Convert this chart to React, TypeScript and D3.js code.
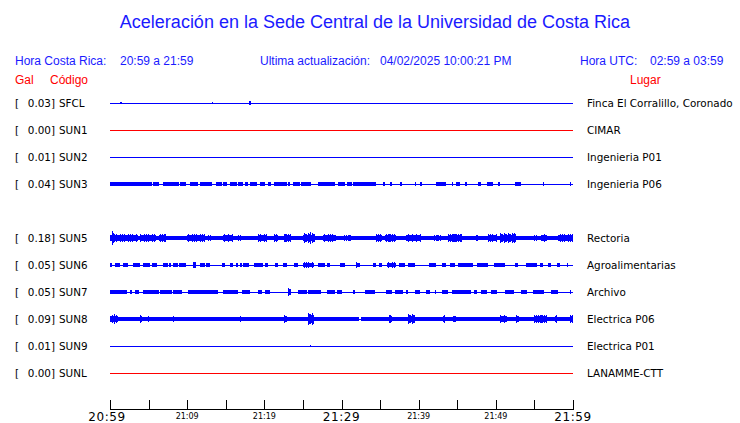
import React from "react";
import * as d3 from "d3";

// ---------- data ----------
const title = "Aceleración en la Sede Central de la Universidad de Costa Rica";
const codes = ["SFCL", "SUN1", "SUN2", "SUN3", "SUN5", "SUN6", "SUN7", "SUN8", "SUN9", "SUNL"];
const rowSlots = [0, 1, 2, 3, 5, 6, 7, 8, 9, 10];
const gals = [0.03, 0.0, 0.01, 0.04, 0.18, 0.05, 0.05, 0.09, 0.01, 0.0];
const places = [
  "Finca El Corralillo, Coronado",
  "CIMAR",
  "Ingenieria P01",
  "Ingenieria P06",
  "Rectoria",
  "Agroalimentarias",
  "Archivo",
  "Electrica P06",
  "Electrica P01",
  "LANAMME-CTT",
];
const traceColors = ["blue", "red", "blue", "blue", "blue", "blue", "blue", "blue", "blue", "red"];
// background band amplitude (relative units)
const baseAmp = [0, 0, 0, 0.06, 0.27, 0.06, 0.06, 0.3, 0, 0];

// bursts: [startMinute, endMinute, amplitude]
const burstsSFCL: number[][] = [[1.35, 1.5, 0.15], [13.25, 13.4, 0.1], [17.95, 18.25, 0.22]];
const burstsSUN1: number[][] = [];
const burstsSUN2: number[][] = [];
const burstsSUN3: number[][] = [
  [0, 5.4, 0.19], [5.6, 6.3, 0.19], [6.9, 8.9, 0.19], [9.1, 9.9, 0.19], [10.4, 11.4, 0.19],
  [11.7, 13.2, 0.19], [13.8, 14.5, 0.19], [14.7, 15.1, 0.19], [15.5, 16.4, 0.19], [16.6, 17.3, 0.19],
  [17.5, 17.9, 0.19], [18.1, 19.0, 0.19], [19.4, 20.1, 0.19], [20.5, 20.9, 0.19], [21.2, 22.9, 0.19],
  [23.1, 23.3, 0.19], [23.75, 24.6, 0.19], [24.8, 26.1, 0.19], [25.8, 26.0, 0.35], [27.0, 29.1, 0.19],
  [29.6, 30.4, 0.19], [30.7, 31.3, 0.19], [31.5, 34.5, 0.19], [35.4, 35.6, 0.19], [36.3, 36.5, 0.19],
  [37.6, 37.8, 0.19], [39.5, 39.7, 0.19], [40.2, 40.4, 0.19], [42.3, 43.6, 0.19], [44.3, 44.5, 0.19],
  [44.9, 45.3, 0.19], [46.0, 46.2, 0.19], [47.7, 48.1, 0.19], [48.8, 49.6, 0.19], [50.3, 50.5, 0.19],
  [52.5, 53.3, 0.19], [56.1, 56.3, 0.19], [59.6, 59.8, 0.19],
];
const burstsSUN5: number[][] = [
  [0, 3.67, 0.5], [0.3, 0.55, 0.9], [3.9, 6.0, 0.5], [6.3, 7.3, 0.55], [10.0, 12.3, 0.5],
  [12.7, 13.2, 0.4], [14.7, 16.0, 0.45], [16.6, 17.1, 0.4], [19.2, 20.3, 0.5], [21.2, 21.8, 0.5],
  [22.5, 23.5, 0.55], [25.0, 26.6, 0.6], [25.9, 26.1, 0.95], [27.6, 29.3, 0.5], [30.2, 31.3, 0.4],
  [34.5, 35.3, 0.5], [35.7, 37.0, 0.55], [38.4, 40.3, 0.45], [41.9, 42.9, 0.4], [43.8, 45.6, 0.55],
  [44.7, 44.9, 0.7], [47.3, 47.7, 0.4], [49.0, 50.1, 0.5], [50.6, 52.6, 0.6], [52.4, 52.6, 0.75],
  [55.0, 55.5, 0.4], [55.8, 56.6, 0.45], [58.1, 60, 0.5],
];
const burstsSUN6: number[][] = [
  [0, 0.2, 0.25], [0.65, 1.3, 0.25], [1.73, 2.37, 0.25], [3.02, 3.9, 0.25], [4.32, 5.2, 0.25],
  [5.4, 6.04, 0.25], [6.9, 7.5, 0.25], [7.6, 7.9, 0.25], [8.2, 8.8, 0.25], [9.0, 9.9, 0.25],
  [10.8, 11.2, 0.45], [11.66, 12.3, 0.25], [12.5, 13.0, 0.25], [14.5, 14.9, 0.25], [15.5, 16.0, 0.25],
  [16.3, 16.6, 0.25], [16.8, 17.1, 0.25], [17.3, 18.0, 0.25], [18.6, 19.8, 0.25], [20.1, 20.5, 0.25],
  [21.4, 21.8, 0.25], [22.45, 22.9, 0.25], [23.9, 24.3, 0.25], [25.0, 26.5, 0.35], [27.0, 27.8, 0.25],
  [28.1, 28.5, 0.25], [29.8, 30.4, 0.25], [31.9, 32.4, 0.35], [34.1, 34.5, 0.25], [34.8, 35.2, 0.25],
  [35.9, 37.0, 0.35], [37.4, 38.2, 0.25], [38.6, 39.5, 0.25], [41.4, 42.3, 0.25], [43.0, 43.6, 0.25],
  [44.0, 44.7, 0.25], [45.1, 47.0, 0.25], [47.5, 49.0, 0.25], [49.7, 51.2, 0.25], [52.5, 52.9, 0.25],
  [53.9, 55.3, 0.25], [55.7, 56.1, 0.25], [56.8, 57.2, 0.25], [57.9, 58.3, 0.25], [59.2, 59.4, 0.25],
];
const burstsSUN7: number[][] = [
  [0, 2.2, 0.25], [2.6, 2.8, 0.25], [3.2, 3.7, 0.25], [4.3, 6.3, 0.3], [6.5, 8.0, 0.25],
  [8.2, 9.3, 0.25], [10.1, 14.0, 0.25], [14.7, 16.6, 0.25], [17.1, 18.1, 0.25], [19.2, 19.7, 0.25],
  [20.1, 20.7, 0.25], [23.1, 23.5, 0.45], [24.4, 25.5, 0.25], [25.7, 27.4, 0.25], [28.1, 29.1, 0.25],
  [29.4, 30.0, 0.25], [31.5, 31.8, 0.25], [33.0, 34.3, 0.25], [35.8, 36.5, 0.25], [36.9, 38.0, 0.25],
  [38.4, 38.6, 0.25], [39.5, 40.2, 0.25], [41.0, 41.5, 0.25], [42.1, 42.3, 0.25], [43.0, 43.8, 0.25],
  [44.3, 46.8, 0.25], [47.2, 47.5, 0.25], [48.1, 48.8, 0.25], [49.4, 50.1, 0.25], [51.2, 52.3, 0.25],
  [53.3, 54.0, 0.25], [54.8, 56.3, 0.25], [57.2, 58.1, 0.25], [59.6, 59.8, 0.25],
];
const burstsSUN8: number[][] = [
  [0, 1.1, 0.5], [0.5, 0.7, 0.65], [3.9, 4.1, 0.45], [4.9, 5.1, 0.4], [8.1, 8.3, 0.45],
  [13.6, 13.8, 0.4], [16.8, 17.0, 0.4], [22.6, 23.0, 0.5], [25.6, 26.5, 0.75], [36.2, 36.6, 0.55],
  [38.6, 39.5, 0.6], [43.2, 43.4, 0.45], [44.4, 44.8, 0.5], [50.6, 51.5, 0.45], [52.6, 53.0, 0.45],
  [55.0, 56.6, 0.55], [57.7, 57.9, 0.45], [59.6, 60, 0.55],
];
const burstsSUN9: number[][] = [[25.95, 26.1, 0.12]];
const burstsSUNL: number[][] = [];
const bursts = [burstsSFCL, burstsSUN1, burstsSUN2, burstsSUN3, burstsSUN5, burstsSUN6, burstsSUN7, burstsSUN8, burstsSUN9, burstsSUNL];
// gaps in the background band: [start, end]
const gapsSUN8: number[][] = [[32.3, 32.5]];

const tickMinutes = d3.range(0, 61, 5);
const majorLabels: Record<number, string> = { 0: "20:59", 30: "21:29", 60: "21:59" };
const minorLabels: Record<number, string> = { 10: "21:09", 20: "21:19", 40: "21:39", 50: "21:49" };

// ---------- layout ----------
const W = 740;
const H = 423;
const BLUE = "#0000ff";
const TXTBLUE = "#1a1aff";
const RED = "#ff0000";
// texture pattern for bursts (fraction of burst amplitude per pixel column)
const texture = [1, 0.75, 0.9, 0.7, 1, 0.8, 0.85, 0.7];

function burstPath(x0: number, x1: number, yy: number, h: number, base: number) {
  const a = Math.round(x0);
  const b = Math.max(a + 1, Math.round(x1));
  let d = "";
  for (let px = a, k = 0; px < b; px++, k++) {
    const f = h < 2.6 ? 1 : texture[(k + a) % texture.length];
    const hh = Math.max(base, h * f, 0.8);
    d += `M${px},${yy - hh}h1v${hh * 2}h-1z`;
  }
  return d;
}

export default function App() {
  const x = d3.scaleLinear().domain([0, 60]).range([110, 573]);
  const y = d3.scaleLinear().domain([0, 10]).range([103, 373]);
  const amp = d3.scaleLinear().domain([0, 1]).range([0, 8]);
  const sans = "'Liberation Sans', Arial, sans-serif";
  const dv = "'DejaVu Sans', sans-serif";

  return (
    <svg width={W} height={H} style={{ position: "absolute", left: 0, top: 0, background: "#fff" }}>
      <rect width={W} height={H} fill="#fff" />
      <text x={375} y={28} textAnchor="middle" fontFamily={sans} fontSize={18} fill={TXTBLUE}>{title}</text>

      <g fontFamily={sans} fontSize={12} fill={TXTBLUE}>
        <text x={15} y={65}>Hora Costa Rica:</text>
        <text x={120} y={65}>20:59 a 21:59</text>
        <text x={260} y={65}>Ultima actualización:</text>
        <text x={380} y={65}>04/02/2025 10:00:21 PM</text>
        <text x={580} y={65}>Hora UTC:</text>
        <text x={650} y={65}>02:59 a 03:59</text>
      </g>
      <g fontFamily={sans} fontSize={12} fill={RED}>
        <text x={15} y={84}>Gal</text>
        <text x={50} y={84}>Código</text>
        <text x={630} y={84}>Lugar</text>
      </g>

      {codes.map((c, i) => {
        const yy = y(rowSlots[i]);
        const col = traceColors[i] === "red" ? RED : BLUE;
        const base = amp(baseAmp[i]);
        const gaps = c === "SUN8" ? gapsSUN8 : [];
        return (
          <g key={c}>
            <g fontFamily={dv} fontSize={10.4} fill="#000">
              <text x={15} y={yy + 4}>[</text>
              <text x={55} y={yy + 4} textAnchor="end">{gals[i].toFixed(2)}]</text>
              <text x={59} y={yy + 4}>{c}</text>
              <text x={587} y={yy + 4}>{places[i]}</text>
            </g>
            <g shapeRendering="crispEdges" fill={col}>
              <rect x={x(0)} y={yy - 0.5} width={x(60) - x(0)} height={1.2} />
              {base > 0.6 && (
                <rect x={x(0)} y={yy - base} width={x(60) - x(0)} height={base * 2} />
              )}
              {gaps.map((g, k) => (
                <rect key={"g" + k} x={x(g[0])} y={yy - base} width={x(g[1]) - x(g[0])} height={base * 2} fill="#fff" />
              ))}
              {gaps.map((g, k) => (
                <rect key={"gl" + k} x={x(g[0])} y={yy - 0.5} width={x(g[1]) - x(g[0])} height={1.2} />
              ))}
              {bursts[i].map((b, k) => (
                <path key={k} d={burstPath(x(b[0]), x(b[1]), yy, amp(b[2]), base)} />
              ))}
            </g>
          </g>
        );
      })}

      <g shapeRendering="crispEdges" stroke="#000" strokeWidth={1}>
        <line x1={x(0)} x2={x(60) + 0.5} y1={409.5} y2={409.5} />
        {tickMinutes.map((m) => (
          <line key={m} x1={Math.round(x(m)) + 0.5} x2={Math.round(x(m)) + 0.5} y1={400} y2={410} />
        ))}
      </g>
      <g fill="#000" fontFamily={dv} textAnchor="middle">
        {tickMinutes.filter((m) => majorLabels[m]).map((m) => (
          <text key={m} x={x(m) - (m === 0 ? 3 : 0)} y={421} fontSize={12} letterSpacing={0.6}>{majorLabels[m]}</text>
        ))}
        {tickMinutes.filter((m) => minorLabels[m]).map((m) => (
          <text key={m} x={x(m)} y={419} fontSize={8}>{minorLabels[m]}</text>
        ))}
      </g>
    </svg>
  );
}
